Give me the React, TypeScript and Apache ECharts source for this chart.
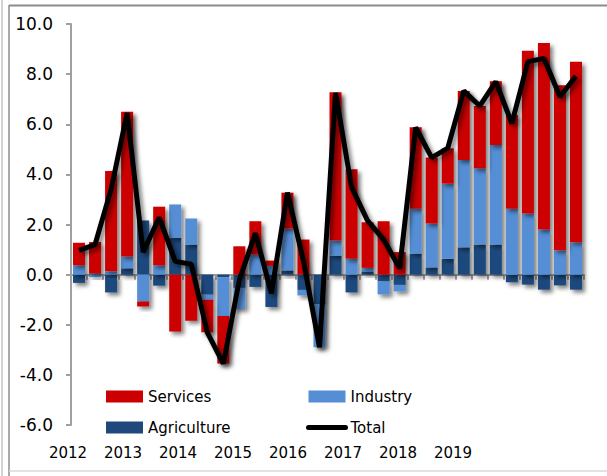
import React, { useEffect, useRef } from "react";
import * as echarts from "echarts";

const quarters = [
  "2012Q1", "2012Q2", "2012Q3", "2012Q4",
  "2013Q1", "2013Q2", "2013Q3", "2013Q4",
  "2014Q1", "2014Q2", "2014Q3", "2014Q4",
  "2015Q1", "2015Q2", "2015Q3", "2015Q4",
  "2016Q1", "2016Q2", "2016Q3", "2016Q4",
  "2017Q1", "2017Q2", "2017Q3", "2017Q4",
  "2018Q1", "2018Q2", "2018Q3", "2018Q4",
  "2019Q1", "2019Q2", "2019Q3", "2019Q4",
];

const yearLabels = ["2012", "2013", "2014", "2015", "2016", "2017", "2018", "2019"];

const agriculture = [
  -0.33, 0.05, -0.71, 0.25,
  2.16, -0.44, 1.47, 1.2,
  -0.8, -0.1, -0.53, -0.49,
  -1.29, 0.17, -0.61, -1.19,
  0.76, -0.71, 0.13, -0.27,
  -0.41, 0.84, 0.29, 0.63,
  1.09, 1.2, 1.2, -0.3,
  -0.4, -0.6, -0.43, -0.6,
];

const industry = [
  0.37, -0.1, 0.13, 0.47,
  -1.07, 0.37, 1.33, 1.04,
  -0.2, -1.55, -0.84, 0.8,
  0.35, 1.67, -0.22, -1.71,
  0.6, 0.63, 0.14, -0.52,
  -0.26, 1.79, 1.75, 3.0,
  3.48, 3.04, 3.97, 2.63,
  2.44, 1.8, 0.97, 1.29,
];

const services = [
  0.9, 1.25, 4.0, 5.78,
  -0.2, 2.34, -2.27, -1.84,
  -1.3, -1.9, 1.13, 1.33,
  0.21, 1.43, 1.4, 0,
  5.92, 3.57, 1.82, 2.13,
  0.9, 3.25, 2.63, 1.41,
  2.76, 2.49, 2.55, 3.74,
  6.49, 7.44, 6.59, 7.2,
];

const total = [
  0.97, 1.2, 3.4, 6.45,
  0.89, 2.28, 0.53, 0.42,
  -2.3, -3.55, -0.22, 1.66,
  -0.75, 3.27, 0.55, -2.9,
  7.25, 3.49, 2.15, 1.4,
  0.25, 5.87, 4.67, 5.05,
  7.33, 6.73, 7.7, 6.03,
  8.5, 8.63, 7.1, 7.92,
];

const FONT = "'DejaVu Sans', Verdana, sans-serif";
const RED = "#CC0000";
const LIGHT = "#558ED5";
const DARK = "#1F497D";
const AXIS = "#A0A0A0";

const shadow = {
  shadowColor: "rgba(0,0,0,0.5)",
  shadowBlur: 4,
  shadowOffsetX: 3,
  shadowOffsetY: 3,
};

export default function App() {
  const ref = useRef<HTMLDivElement>(null);

  useEffect(() => {
    if (!ref.current) return;
    const chart = echarts.init(ref.current, null, { renderer: "svg" });

    const yearTexts = yearLabels.map((y, i) => ({
      type: "text",
      x: 68 + 55 * i,
      y: 453,
      style: {
        text: y,
        fontFamily: FONT,
        fontSize: 15,
        fill: "#000",
        align: "center",
        verticalAlign: "middle",
      },
    }));

    const barBase = {
      type: "bar",
      stack: "contrib",
      barWidth: 12,
    };

    chart.setOption({
      animation: false,
      backgroundColor: "#fff",
      grid: { left: 71, right: 23, top: 24, bottom: 51, containLabel: false },
      xAxis: {
        type: "category",
        data: quarters,
        axisLine: { onZero: true, lineStyle: { color: AXIS, width: 2 } },
        axisTick: { show: true, interval: 0, length: 5, lineStyle: { color: AXIS, width: 2 } },
        axisLabel: { show: false },
        splitLine: { show: false },
      },
      yAxis: {
        type: "value",
        min: -6,
        max: 10,
        interval: 2,
        axisLine: { show: true, lineStyle: { color: AXIS, width: 2 } },
        axisTick: { show: true, length: 5, lineStyle: { color: AXIS, width: 2 } },
        axisLabel: {
          formatter: (v: number) => v.toFixed(1),
          fontFamily: FONT,
          fontSize: 17,
          color: "#000",
          margin: 18,
        },
        splitLine: { show: false },
      },
      legend: [
        {
          data: ["Services", "Agriculture"],
          orient: "vertical",
          left: 106,
          top: 389,
          padding: 0,
          itemWidth: 37,
          itemHeight: 12,
          itemGap: 16,
          icon: "rect",
          textStyle: { fontFamily: FONT, fontSize: 15, color: "#000" },
        },
        {
          data: [
            { name: "Industry", icon: "rect" },
            { name: "Total", itemStyle: { opacity: 0 } },
          ],
          orient: "vertical",
          left: 306,
          top: 389,
          padding: 0,
          itemWidth: 37,
          itemHeight: 12,
          itemGap: 16,
          lineStyle: { width: 5, cap: "round" },
          textStyle: { fontFamily: FONT, fontSize: 15, color: "#000" },
        },
      ],
      series: [
        { ...barBase, name: "Agriculture", data: agriculture, itemStyle: { color: DARK, ...shadow } },
        { ...barBase, name: "Industry", data: industry, itemStyle: { color: LIGHT, ...shadow } },
        { ...barBase, name: "Services", data: services, itemStyle: { color: RED, ...shadow } },
        {
          type: "line",
          name: "Total",
          data: total,
          symbol: "none",
          z: 10,
          lineStyle: { color: "#000", width: 5, ...shadow },
          itemStyle: { color: "#000" },
        },
      ],
      graphic: [
        ...yearTexts,
        { type: "line", shape: { x1: 2, y1: 0, x2: 2, y2: 476 }, style: { stroke: "#A6A6A6", lineWidth: 1 } },
        { type: "line", shape: { x1: 9, y1: 5, x2: 9, y2: 476 }, style: { stroke: "#8C8C8C", lineWidth: 1.5 } },
        { type: "line", shape: { x1: 9, y1: 5.5, x2: 607, y2: 5.5 }, style: { stroke: "#8C8C8C", lineWidth: 2 } },
        { type: "line", shape: { x1: 9, y1: 471, x2: 607, y2: 471 }, style: { stroke: "#D9D9D9", lineWidth: 1.5 } },
      ],
    });

    return () => chart.dispose();
  }, []);

  return (
    <div
      ref={ref}
      style={{ position: "absolute", left: 0, top: 0, width: 607, height: 476, background: "#fff" }}
    />
  );
}
